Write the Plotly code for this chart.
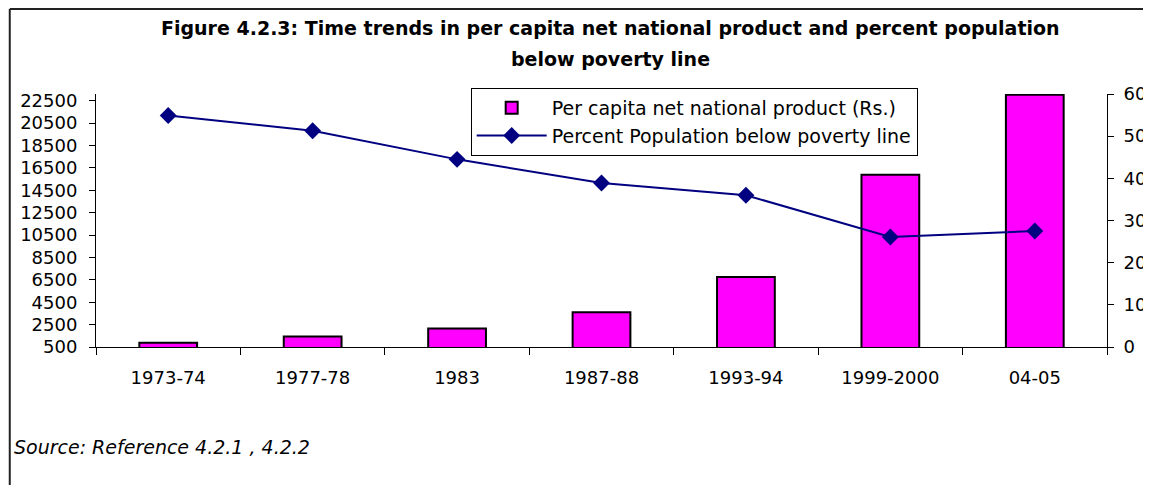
import plotly.graph_objects as go

# ---- data ----
categories = ["1973-74", "1977-78", "1983", "1987-88", "1993-94", "1999-2000", "04-05"]
per_capita_nnp = [890, 1430, 2150, 3600, 6760, 15880, 23040]
poverty_pct = [54.9, 51.3, 44.5, 38.9, 36.0, 26.1, 27.5]
left_ticks = [500, 2500, 4500, 6500, 8500, 10500, 12500, 14500, 16500, 18500, 20500, 22500]
right_ticks = [0, 10, 20, 30, 40, 50, 60]
category_bounds = [-0.5, 0.5, 1.5, 2.5, 3.5, 4.5, 5.5, 6.5]

title_line1 = "Figure 4.2.3: Time trends in per capita net national product and percent population"
title_line2 = "below poverty line"
source_text = "Source: Reference 4.2.1 , 4.2.2"

FONT = "DejaVu Sans"
LEFT_RANGE = [500, 23100]
RIGHT_RANGE = [0, 60]

fig = go.Figure()
fig.add_trace(go.Bar(
    x=categories, y=per_capita_nnp,
    name="Per capita net national product (Rs.)",
    marker=dict(color="#FF00FF", line=dict(color="black", width=2)),
    width=0.4,
))
fig.add_trace(go.Scatter(
    x=categories, y=poverty_pct, yaxis="y2",
    mode="lines+markers",
    name="Percent Population below poverty line",
    line=dict(color="#000080", width=2),
    marker=dict(symbol="diamond", size=13, color="#000080"),
))

axis_common = dict(showgrid=False, zeroline=False, tickcolor="black", tickwidth=1)

# frame kept inside the figure's own bounds
FRAME_LEFT, FRAME_RIGHT, FRAME_TOP, FRAME_BOTTOM = -0.0853, 1.040, 1.336, -0.57
frame_line = dict(color="#222222", width=2)

# the page body adds an 8px offset; margins compensate so the plot area
# sits at x 96..1116, y 94..347 in the window
fig.update_layout(
    width=1151, height=485,
    paper_bgcolor="white", plot_bgcolor="white",
    margin=dict(l=88, r=43, t=86, b=146, pad=0),
    font=dict(family=FONT, size=18, color="black"),
    showlegend=True,
    legend=dict(
        x=0.3706, y=1.024, xanchor="left", yanchor="top",
        bgcolor="white", bordercolor="black", borderwidth=1,
        font=dict(family=FONT, size=19, color="black"),
        itemwidth=70, tracegroupgap=0,
    ),
    xaxis=dict(
        type="category", categoryorder="array", categoryarray=categories,
        range=[-0.5, 6.5], tickson="boundaries",
        ticks="outside", ticklen=7,
        showline=True, linecolor="black", linewidth=1,
        tickfont=dict(family=FONT, size=18), ticklabelstandoff=14,
        **axis_common,
    ),
    xaxis2=dict(
        overlaying="x", anchor="y", side="bottom", type="linear",
        range=[-0.5, 6.5], tickmode="array", tickvals=category_bounds,
        ticks="inside", ticklen=6, showticklabels=False, showline=False,
        **axis_common,
    ),
    yaxis=dict(
        range=LEFT_RANGE, tickmode="array", tickvals=left_ticks,
        ticktext=[str(v) for v in left_ticks],
        ticks="outside", ticklen=6,
        showline=True, linecolor="black", linewidth=1,
        tickfont=dict(family=FONT, size=18), ticklabelstandoff=8,
        **axis_common,
    ),
    yaxis2=dict(
        overlaying="y", side="right", anchor="x",
        range=RIGHT_RANGE, tickmode="array", tickvals=right_ticks,
        ticks="outside", ticklen=6,
        showline=True, linecolor="black", linewidth=1,
        tickfont=dict(family=FONT, size=18), ticklabelstandoff=6,
        **axis_common,
    ),
    yaxis3=dict(
        overlaying="y", side="left", anchor="x",
        range=LEFT_RANGE, tickmode="array", tickvals=left_ticks,
        ticks="inside", ticklen=6, showticklabels=False, showline=False,
        **axis_common,
    ),
    yaxis4=dict(
        overlaying="y", side="right", anchor="x",
        range=RIGHT_RANGE, tickmode="array", tickvals=right_ticks,
        ticks="inside", ticklen=6, showticklabels=False, showline=False,
        **axis_common,
    ),
    annotations=[
        dict(text="<b>" + title_line1 + "</b>", xref="paper", yref="paper",
             x=0.509, y=1.261, xanchor="center", yanchor="middle", showarrow=False,
             font=dict(family=FONT, size=19, color="black")),
        dict(text="<b>" + title_line2 + "</b>", xref="paper", yref="paper",
             x=0.509, y=1.1385, xanchor="center", yanchor="middle", showarrow=False,
             font=dict(family=FONT, size=19, color="black")),
        dict(text="<i>" + source_text + "</i>", xref="paper", yref="paper",
             x=-0.0833, y=-0.397, xanchor="left", yanchor="middle", showarrow=False,
             font=dict(family=FONT, size=19, color="black")),
    ],
    shapes=[
        dict(type="line", xref="paper", yref="paper",
             x0=FRAME_LEFT, x1=FRAME_LEFT, y0=FRAME_BOTTOM, y1=FRAME_TOP,
             line=frame_line, layer="below"),
        dict(type="line", xref="paper", yref="paper",
             x0=FRAME_LEFT, x1=FRAME_RIGHT, y0=FRAME_TOP, y1=FRAME_TOP,
             line=frame_line, layer="below"),
    ],
)

fig.write_html("out.html")
